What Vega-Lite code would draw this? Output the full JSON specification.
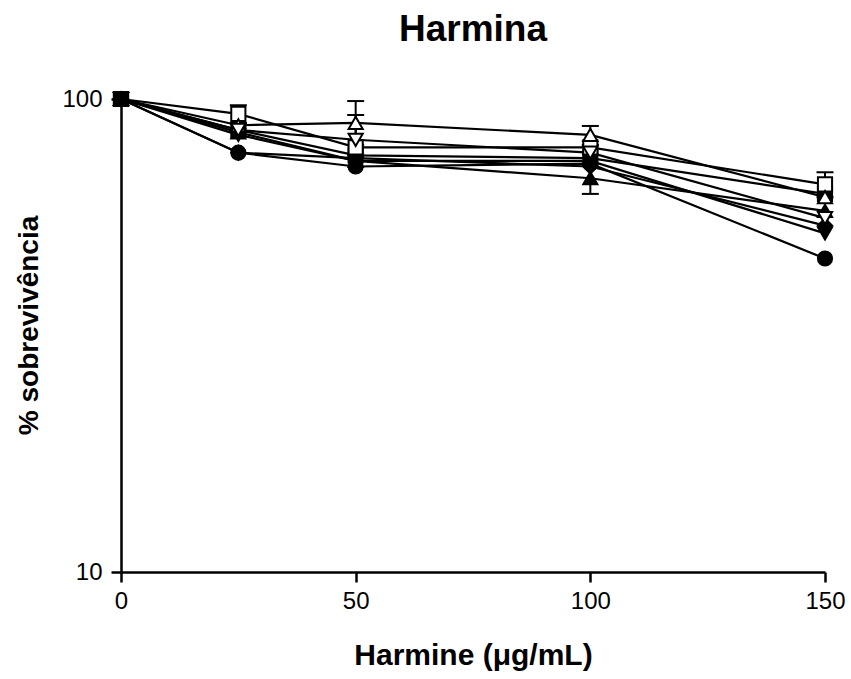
{
  "$schema": "https://vega.github.io/schema/vega-lite/v6.json",
  "width": 704,
  "height": 473,
  "autosize": {"type": "none"},
  "padding": {"left": 121, "top": 99, "right": 26, "bottom": 107},
  "background": "white",
  "config": {
    "view": {"stroke": null},
    "font": "Liberation Sans",
    "axis": {"grid": false, "labelColor": "black", "labelFont": "Liberation Sans", "titleColor": "black", "titleFont": "Liberation Sans", "titleFontWeight": "bold"}
  },
  "title": {"text": "Harmina", "fontSize": 37, "fontWeight": "bold", "font": "Liberation Sans", "color": "black", "anchor": "middle", "offset": 38},
  "datasets": {
    "pts": [
      {"series": "A", "dose": 0, "surv": 100}, {"series": "A", "dose": 25, "surv": 77}, {"series": "A", "dose": 50, "surv": 72}, {"series": "A", "dose": 100, "surv": 73}, {"series": "A", "dose": 150, "surv": 46},
      {"series": "B", "dose": 0, "surv": 100}, {"series": "B", "dose": 25, "surv": 86}, {"series": "B", "dose": 50, "surv": 76}, {"series": "B", "dose": 100, "surv": 75}, {"series": "B", "dose": 150, "surv": 63},
      {"series": "C", "dose": 0, "surv": 100}, {"series": "C", "dose": 25, "surv": 85}, {"series": "C", "dose": 50, "surv": 74}, {"series": "C", "dose": 100, "surv": 68}, {"series": "C", "dose": 150, "surv": 58},
      {"series": "D", "dose": 0, "surv": 100}, {"series": "D", "dose": 25, "surv": 84}, {"series": "D", "dose": 50, "surv": 74}, {"series": "D", "dose": 100, "surv": 74}, {"series": "D", "dose": 150, "surv": 52},
      {"series": "E", "dose": 0, "surv": 100}, {"series": "E", "dose": 25, "surv": 77}, {"series": "E", "dose": 50, "surv": 75}, {"series": "E", "dose": 100, "surv": 72}, {"series": "E", "dose": 150, "surv": 54},
      {"series": "F", "dose": 0, "surv": 100}, {"series": "F", "dose": 25, "surv": 93}, {"series": "F", "dose": 50, "surv": 79}, {"series": "F", "dose": 100, "surv": 79}, {"series": "F", "dose": 150, "surv": 66},
      {"series": "G", "dose": 0, "surv": 100}, {"series": "G", "dose": 25, "surv": 88}, {"series": "G", "dose": 50, "surv": 89}, {"series": "G", "dose": 100, "surv": 84}, {"series": "G", "dose": 150, "surv": 62},
      {"series": "H", "dose": 0, "surv": 100}, {"series": "H", "dose": 25, "surv": 86}, {"series": "H", "dose": 50, "surv": 82}, {"series": "H", "dose": 100, "surv": 77}, {"series": "H", "dose": 150, "surv": 56},
      {"series": "B", "dose": 0, "surv": 100}
    ],
    "errs": [
      {"series": "F", "dose": 25, "lo": 89, "hi": 97},
      {"series": "G", "dose": 50, "lo": 80, "hi": 99},
      {"series": "H", "dose": 50, "lo": 76, "hi": 92.5},
      {"series": "G", "dose": 100, "lo": 80, "hi": 87.7},
      {"series": "C", "dose": 100, "lo": 63, "hi": 73},
      {"series": "F", "dose": 150, "lo": 62, "hi": 70}
    ]
  },
  "layer": [
    {
      "data": {"name": "errs"},
      "mark": {"type": "rule", "color": "black", "strokeWidth": 2},
      "encoding": {
        "x": {"field": "dose", "type": "quantitative"},
        "y": {"field": "lo", "type": "quantitative"},
        "y2": {"field": "hi"}
      }
    },
    {
      "data": {"name": "errs"},
      "mark": {"type": "tick", "orient": "horizontal", "color": "black", "size": 17, "thickness": 2, "opacity": 1},
      "encoding": {
        "x": {"field": "dose", "type": "quantitative"},
        "y": {"field": "hi", "type": "quantitative"}
      }
    },
    {
      "data": {"name": "errs"},
      "mark": {"type": "tick", "orient": "horizontal", "color": "black", "size": 17, "thickness": 2, "opacity": 1},
      "encoding": {
        "x": {"field": "dose", "type": "quantitative"},
        "y": {"field": "lo", "type": "quantitative"}
      }
    },
    {
      "data": {"name": "pts"},
      "mark": {"type": "line", "color": "black", "strokeWidth": 2.2},
      "encoding": {
        "x": {"field": "dose", "type": "quantitative"},
        "y": {"field": "surv", "type": "quantitative"},
        "detail": {"field": "series", "type": "nominal"},
        "order": {"field": "dose", "type": "quantitative"}
      }
    },
    {
      "data": {"name": "pts"},
      "mark": {"type": "point", "filled": false, "stroke": "black", "strokeWidth": 2, "opacity": 1, "size": 200},
      "encoding": {
        "x": {"field": "dose", "type": "quantitative", "scale": {"domain": [0, 150], "nice": false, "zero": false}, "axis": {"values": [0, 50, 100, 150], "domainColor": "black", "domainWidth": 2.5, "tickColor": "black", "tickWidth": 2.5, "tickSize": 10, "labelFlush": false, "labelFontSize": 24, "labelPadding": 7, "title": "Harmine (μg/mL)", "titleFontSize": 30, "titlePadding": 27}},
        "y": {"field": "surv", "type": "quantitative", "scale": {"type": "log", "domain": [10, 100], "nice": false}, "axis": {"values": [10, 100], "format": "d", "domainColor": "black", "domainWidth": 2.5, "tickColor": "black", "tickWidth": 2.5, "tickSize": 10, "labelFlush": false, "labelFontSize": 24, "labelPadding": 9, "title": "% sobrevivência", "titleFontSize": 28, "titlePadding": 18, "titleY": 226}},
        "shape": {"field": "series", "type": "nominal", "legend": null, "scale": {"domain": ["A", "B", "C", "D", "E", "F", "G", "H"], "range": ["circle", "square", "triangle-up", "triangle-down", "diamond", "square", "triangle-up", "triangle-down"]}},
        "fill": {"field": "series", "type": "nominal", "legend": null, "scale": {"domain": ["A", "B", "C", "D", "E", "F", "G", "H"], "range": ["black", "black", "black", "black", "black", "white", "white", "white"]}}
      }
    }
  ]
}
